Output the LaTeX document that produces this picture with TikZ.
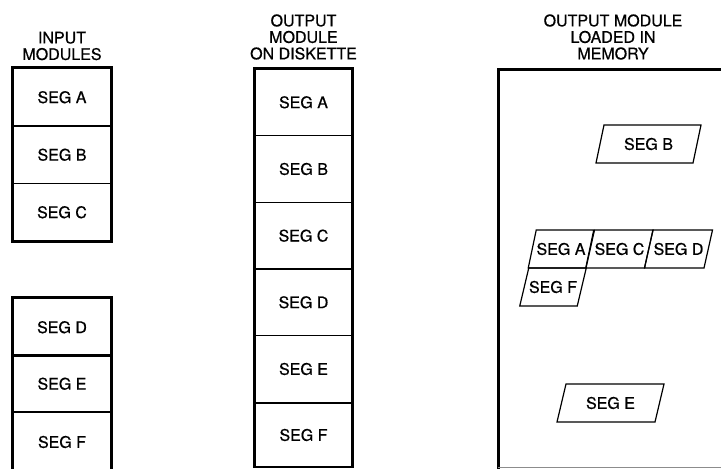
\documentclass[tikz,border=0pt]{standalone}
\usepackage{fontspec}
\setmainfont[FakeBold=0.6]{TeX Gyre Heros}
\newcommand\segfont{\fontsize{16}{16.5}\selectfont}
\newcommand\segpg[6]{%
  \draw[pg] (#2-#4/2-#5/2,#3+19) -- (#2+#4/2-#5/2,#3+19) -- (#2+#4/2+#5/2,#3-19) -- (#2-#4/2+#5/2,#3-19) -- cycle;
  \node[seg] (#1) at (#2,#3) {#6};}
\begin{document}
\begin{tikzpicture}[x=1pt,y=-1pt,
  lcell/.style={draw,line width=1.1pt,minimum width=98pt,minimum height=57.5pt,inner sep=0pt,font=\segfont},
  mcell/.style={draw,line width=1.1pt,minimum width=97pt,minimum height=66.67pt,inner sep=0pt,font=\segfont},
  outer/.style={line width=3pt,line join=miter},
  title/.style={align=center,font=\segfont,inner sep=0pt},
  seg/.style={inner sep=0pt,font=\segfont},
  pg/.style={draw,line width=1.2pt,line join=miter}]
\useasboundingbox (0,0) rectangle (721,469);
\fill[white] (0,0) rectangle (721,469);
% titles
\node[title] (t1) at (62,46) {INPUT\\MODULES};
\node[title] (t2) at (303.5,37) {OUTPUT\\MODULE\\ON DISKETTE};
\node[title] (t3) at (613,37) {OUTPUT MODULE\\LOADED IN\\MEMORY};
% input modules, upper
\node[lcell] (ia) at (62,97.25) {SEG A};
\node[lcell] (ib) at (62,154.75) {SEG B};
\node[lcell] (ic) at (62,212.25) {SEG C};
\draw[outer] (ia.north west) rectangle (ic.south east);
% input modules, lower
\node[lcell] (id) at (62,327.25) {SEG D};
\node[lcell] (ie) at (62,383.75) {SEG E};
\node[lcell,minimum height=60pt] (if) at (62,442) {SEG F};
\draw[outer] (if.south west) -- (id.north west) -- (id.north east) -- (if.south east);
% output module on diskette
\node[mcell] (oa) at (303.5,102.33) {SEG A};
\node[mcell] (ob) at (303.5,169) {SEG B};
\node[mcell] (oc) at (303.5,235.67) {SEG C};
\node[mcell] (od) at (303.5,302.33) {SEG D};
\node[mcell] (oe) at (303.5,369) {SEG E};
\node[mcell,minimum height=64pt] (of) at (303.5,435) {SEG F};
\draw[outer] (of.south west) -- (oa.north west) -- (oa.north east) -- (of.south east);
% memory
\coordinate (mtr) at (740,69);
\coordinate (mtl) at (498,69);
\coordinate (mbl) at (498,480);
\coordinate (mb1) at (498,467.5);
\coordinate (mb2) at (740,467.5);
\draw[outer] (mtr) -- (mtl) -- (mbl);
\draw[line width=0.8pt,black!45] (mb1) -- (mb2);
% segments loaded in memory
\segpg{mb}{648.5}{144}{97}{8}{SEG B}
\segpg{ma}{561}{249}{57.5}{8}{SEG A}
\segpg{mc}{619.5}{249}{58.5}{8.5}{SEG C}
\segpg{md}{678.5}{249}{59.5}{8.5}{SEG D}
\segpg{mf}{553}{287}{57.5}{9}{SEG F}
\segpg{me}{610.5}{403}{98}{9}{SEG E}
\end{tikzpicture}
\end{document}
